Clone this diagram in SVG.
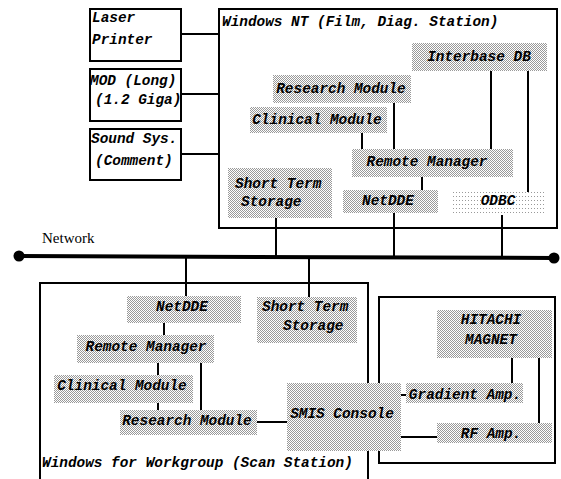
<svg xmlns="http://www.w3.org/2000/svg" width="561" height="479" viewBox="0 0 561 479">
<defs>
<pattern id="dots" width="2" height="2" patternUnits="userSpaceOnUse">
<rect width="2" height="2" fill="#ffffff"/>
<rect x="0" y="0" width="1" height="1" fill="#999999"/>
<rect x="1" y="1" width="1" height="1" fill="#999999"/>
</pattern>
<pattern id="sparse" width="3" height="4" patternUnits="userSpaceOnUse">
<rect width="3" height="4" fill="#ffffff"/>
<rect x="0" y="0" width="1" height="1" fill="#999999"/>
</pattern>
</defs>
<style>
.box{fill:#fff;stroke:#000;stroke-width:2}
.frame{fill:none;stroke:#000;stroke-width:2}
.sh{fill:url(#dots);stroke:none}
.sp{fill:url(#sparse);stroke:none}
.ln{stroke:#000;stroke-width:2;fill:none}
.t{font-family:"Liberation Mono","DejaVu Sans Mono",monospace;font-size:14.4px;font-style:italic;font-weight:bold;fill:#000}
.m{text-anchor:middle}
.net{font-family:"Liberation Serif","Times New Roman",serif;font-size:15px;fill:#000}
</style>
<rect width="561" height="479" fill="#fff"/>

<g id="frames">
<rect id="nt-frame" class="frame" x="219" y="9" width="338" height="219"/>
<path id="wfw-frame" class="frame" d="M40,479 V283 H368 V479"/>
<rect id="hw-frame" class="frame" x="379" y="297" width="176" height="166"/>
<text class="t" x="222" y="26">Windows NT (Film, Diag. Station)</text>
<text class="t" x="42" y="467">Windows for Workgroup (Scan Station)</text>
</g>

<g id="connectors">
<line class="ln" x1="181" y1="34" x2="219" y2="34"/>
<line class="ln" x1="181" y1="94" x2="219" y2="94"/>
<line class="ln" x1="181" y1="154" x2="219" y2="154"/>
<line class="ln" x1="362" y1="133" x2="362" y2="149"/>
<line class="ln" x1="394" y1="103" x2="394" y2="149"/>
<line class="ln" x1="491" y1="71" x2="491" y2="149"/>
<line class="ln" x1="528" y1="71" x2="528" y2="192"/>
<line class="ln" x1="422" y1="177" x2="422" y2="190"/>
<line class="ln" x1="394" y1="213" x2="394" y2="257"/>
<line class="ln" x1="502" y1="215" x2="502" y2="257"/>
<line class="ln" x1="276" y1="218" x2="276" y2="257"/>
<line class="ln" x1="186" y1="257" x2="186" y2="296"/>
<line class="ln" x1="309" y1="257" x2="309" y2="297"/>
<line class="ln" x1="164" y1="323" x2="164" y2="335"/>
<line class="ln" x1="158" y1="363" x2="158" y2="375"/>
<line class="ln" x1="158" y1="403" x2="158" y2="410" stroke-width="1"/>
<line class="ln" x1="201" y1="363" x2="201" y2="410"/>
<line class="ln" x1="257" y1="422" x2="287" y2="422"/>
<line class="ln" x1="401" y1="395" x2="409" y2="395"/>
<line class="ln" x1="401" y1="437" x2="437" y2="437"/>
<line class="ln" x1="512" y1="358" x2="512" y2="383"/>
<line class="ln" x1="539" y1="358" x2="539" y2="423"/>
</g>

<g id="network">
<line x1="19" y1="256" x2="554" y2="258" stroke="#000" stroke-width="4"/>
<circle cx="19" cy="256" r="5.5" fill="#000"/>
<circle cx="554" cy="258" r="5.5" fill="#000"/>
<text class="net" x="42" y="243">Network</text>
</g>

<g id="laser-printer">
<rect class="box" x="90" y="9" width="91" height="52"/>
<text class="t" x="92" y="22">Laser</text>
<text class="t" x="92" y="44">Printer</text>
</g>
<g id="mod">
<rect class="box" x="90" y="69" width="91" height="52"/>
<text class="t" x="90" y="85">MOD (Long)</text>
<text class="t" x="95" y="104">(1.2 Giga)</text>
</g>
<g id="sound">
<rect class="box" x="90" y="129" width="91" height="51"/>
<text class="t" x="91" y="143">Sound Sys.</text>
<text class="t" x="95" y="165">(Comment)</text>
</g>

<g id="nt-interbase">
<rect class="sh" x="412" y="43" width="135" height="28"/>
<text class="t m" x="479" y="61">Interbase DB</text>
</g>
<g id="nt-research">
<rect class="sh" x="273" y="75" width="138" height="28"/>
<text class="t m" x="341" y="93">Research Module</text>
</g>
<g id="nt-clinical">
<rect class="sh" x="250" y="107" width="137" height="26"/>
<text class="t m" x="317" y="124">Clinical Module</text>
</g>
<g id="nt-remote">
<rect class="sh" x="352" y="149" width="161" height="28"/>
<text class="t m" x="427" y="166">Remote Manager</text>
</g>
<g id="nt-storage">
<rect class="sh" x="228" y="168" width="104" height="50"/>
<text class="t" x="235" y="188">Short Term</text>
<text class="t" x="241" y="206">Storage</text>
</g>
<g id="nt-netdde">
<rect class="sh" x="343" y="190" width="95" height="23"/>
<text class="t m" x="388" y="205">NetDDE</text>
</g>
<g id="nt-odbc">
<rect class="sp" x="453" y="192" width="92" height="23"/>
<text class="t m" x="498" y="205">ODBC</text>
</g>

<g id="wfw-netdde">
<rect class="sh" x="127" y="296" width="114" height="27"/>
<text class="t m" x="182" y="311">NetDDE</text>
</g>
<g id="wfw-storage">
<rect class="sh" x="257" y="297" width="100" height="46"/>
<text class="t" x="262" y="311">Short Term</text>
<text class="t" x="283" y="330">Storage</text>
</g>
<g id="wfw-remote">
<rect class="sh" x="77" y="335" width="137" height="28"/>
<text class="t m" x="146" y="351">Remote Manager</text>
</g>
<g id="wfw-clinical">
<rect class="sh" x="54" y="375" width="139" height="28"/>
<text class="t m" x="122" y="390">Clinical Module</text>
</g>
<g id="wfw-research">
<rect class="sh" x="120" y="410" width="137" height="25"/>
<text class="t m" x="187" y="425">Research Module</text>
</g>
<g id="smis">
<rect class="sh" x="287" y="383" width="114" height="68"/>
<text class="t m" x="342" y="418">SMIS Console</text>
</g>
<g id="hitachi">
<rect class="sh" x="437" y="310" width="115" height="48"/>
<text class="t m" x="491" y="324">HITACHI</text>
<text class="t m" x="491" y="344">MAGNET</text>
</g>
<g id="gradient">
<rect class="sh" x="406" y="383" width="117" height="20"/>
<text class="t m" x="465" y="399">Gradient Amp.</text>
</g>
<g id="rf">
<rect class="sh" x="437" y="423" width="115" height="20"/>
<text class="t m" x="491" y="438">RF Amp.</text>
</g>
</svg>
